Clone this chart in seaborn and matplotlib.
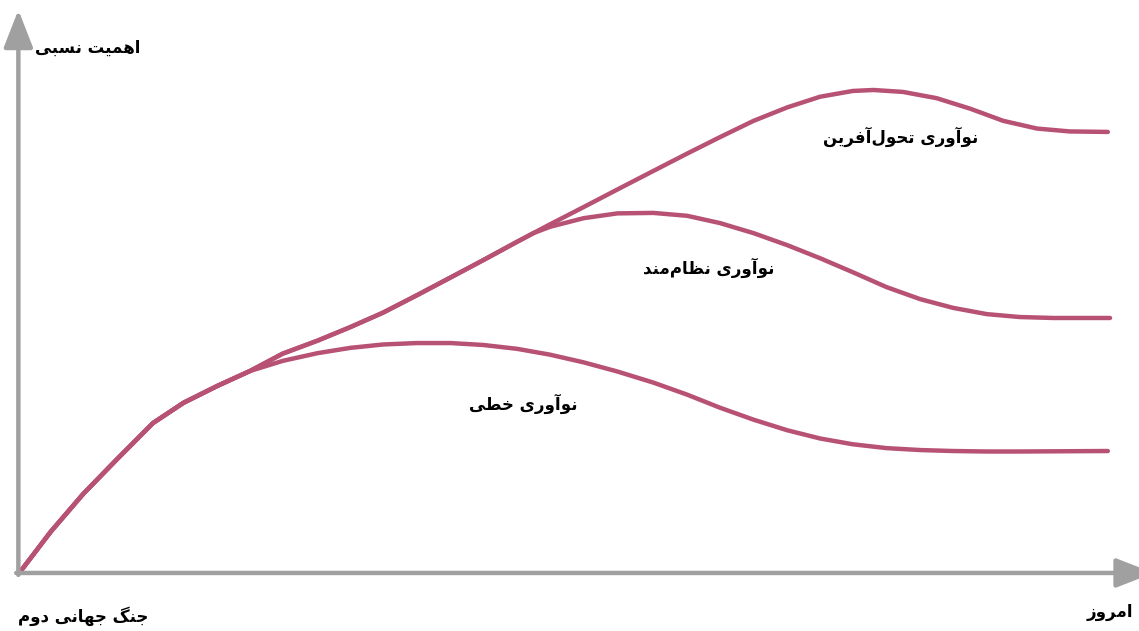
import pandas as pd
import seaborn as sns
import matplotlib.pyplot as plt

# curve data (x: time 0..100, y: relative importance 0..100)
common_x = [0.0, 2.8, 5.8, 8.9, 12.2, 15.0, 18.1, 21.1]
common_y = [0.0, 8.3, 16.2, 23.4, 30.9, 35.1, 38.6, 41.7]

linear_x = [24.1, 27.3, 30.3, 33.3, 36.4, 39.5, 42.5, 45.6, 48.6, 51.7, 54.8, 58.1,
            61.2, 64.2, 67.3, 70.4, 73.4, 76.4, 79.5, 82.6, 85.6, 88.7, 91.7, 99.8]
linear_y = [43.8, 45.4, 46.5, 47.2, 47.5, 47.5, 47.1, 46.3, 45.1, 43.5, 41.6, 39.3,
            36.8, 34.1, 31.6, 29.4, 27.7, 26.5, 25.7, 25.3, 25.1, 25.0, 25.0, 25.1]

# stretch that systematic and transformative share before they split
shared_x = [24.1, 27.3, 30.3, 33.3, 36.4, 39.5, 42.5, 45.6, 47.1]
shared_y = [45.3, 48.0, 50.8, 53.8, 57.4, 61.1, 64.7, 68.5, 70.3]

systematic_x = [48.6, 51.7, 54.8, 58.1, 61.2, 64.2, 67.3, 70.4, 73.4, 76.4, 79.5,
                82.6, 85.6, 88.7, 91.7, 94.8, 100.0]
systematic_y = [71.6, 73.4, 74.4, 74.5, 73.9, 72.4, 70.3, 67.8, 65.1, 62.2, 59.1,
                56.6, 54.8, 53.5, 52.9, 52.7, 52.7]

transform_x = [48.6, 51.7, 55.1, 58.1, 61.2, 64.2, 67.3, 70.4, 73.4, 76.4, 78.3,
               81.0, 84.1, 87.2, 90.2, 93.3, 96.3, 99.8]
transform_y = [72.1, 75.7, 79.7, 83.2, 86.8, 90.2, 93.6, 96.4, 98.6, 99.8, 100.0,
               99.6, 98.3, 96.1, 93.6, 92.0, 91.4, 91.3]

curve_names = ['نوآوری خطی', 'نوآوری نظام‌مند', 'نوآوری تحول‌آفرین']
label_pos = [(46.2, 34.9), (63.2, 63.1), (80.8, 90.2)]
y_title = 'اهمیت نسبی'
x_start = 'جنگ جهانی دوم'
x_end = 'امروز'

LINE = '#b85275'
GRAY = '#a0a0a0'

# --- tiny Persian shaper (matplotlib has no Arabic shaping) ---
# letter: (isolated, final, initial, medial); two entries = joins only to the right
FORMS = {
    'ا': ('\uFE8D', '\uFE8E'), 'آ': ('\uFE81', '\uFE82'),
    'د': ('\uFEA9', '\uFEAA'), 'ر': ('\uFEAD', '\uFEAE'),
    'ز': ('\uFEAF', '\uFEB0'), 'و': ('\uFEED', '\uFEEE'),
    'ب': ('\uFE8F', '\uFE90', '\uFE91', '\uFE92'),
    'ت': ('\uFE95', '\uFE96', '\uFE97', '\uFE98'),
    'ج': ('\uFE9D', '\uFE9E', '\uFE9F', '\uFEA0'),
    'ح': ('\uFEA1', '\uFEA2', '\uFEA3', '\uFEA4'),
    'خ': ('\uFEA5', '\uFEA6', '\uFEA7', '\uFEA8'),
    'س': ('\uFEB1', '\uFEB2', '\uFEB3', '\uFEB4'),
    'ط': ('\uFEC1', '\uFEC2', '\uFEC3', '\uFEC4'),
    'ظ': ('\uFEC5', '\uFEC6', '\uFEC7', '\uFEC8'),
    'ف': ('\uFED1', '\uFED2', '\uFED3', '\uFED4'),
    'گ': ('\uFB92', '\uFB93', '\uFB94', '\uFB95'),
    'ک': ('\uFB8E', '\uFB8F', '\uFB90', '\uFB91'),
    'ل': ('\uFEDD', '\uFEDE', '\uFEDF', '\uFEE0'),
    'م': ('\uFEE1', '\uFEE2', '\uFEE3', '\uFEE4'),
    'ن': ('\uFEE5', '\uFEE6', '\uFEE7', '\uFEE8'),
    'ه': ('\uFEE9', '\uFEEA', '\uFEEB', '\uFEEC'),
    'ی': ('\uFBFC', '\uFBFD', '\uFBFE', '\uFBFF'),
}


def shape(text):
    out = []
    for i, ch in enumerate(text):
        if ch not in FORMS:
            out.append(ch)
            continue
        prev = text[i - 1] if i > 0 else ''
        nxt = text[i + 1] if i + 1 < len(text) else ''
        join_prev = prev in FORMS and len(FORMS[prev]) == 4
        join_next = len(FORMS[ch]) == 4 and nxt in FORMS
        f = FORMS[ch]
        if join_prev and join_next:
            out.append(f[3])
        elif join_prev:
            out.append(f[1])
        elif join_next:
            out.append(f[2])
        else:
            out.append(f[0])
    return ''.join(out).replace('\u200c', '')[::-1]


rows = []
for name, xs, ys in [
    (curve_names[0], common_x + linear_x, common_y + linear_y),
    (curve_names[1], common_x + shared_x + systematic_x, common_y + shared_y + systematic_y),
    (curve_names[2], common_x + shared_x + transform_x, common_y + shared_y + transform_y),
]:
    for x, y in zip(xs, ys):
        rows.append({'x': x, 'y': y, 'curve': name})
df = pd.DataFrame(rows)

sns.set_style('white')
plt.rcParams['font.family'] = ['DejaVu Sans']

fig = plt.figure(figsize=(11.39, 6.31), dpi=100)
ax = fig.add_axes([0, 0, 1, 1])

sns.lineplot(data=df, x='x', y='y', hue='curve', palette=[LINE] * 3,
             estimator=None, sort=False, legend=False, linewidth=3.2, ax=ax)
for line in ax.lines:
    line.set_solid_capstyle('round')
    line.set_solid_joinstyle('round')

ax.set_xlim(-1.835, 102.66)
ax.set_ylim(-12.24, 118.67)
ax.axis('off')

# axes arrows
arrow = dict(arrowstyle='-|>,head_length=1.15,head_width=0.45', lw=3.2,
             color=GRAY, shrinkA=0, shrinkB=0, mutation_scale=20)
ax.annotate('', xy=(104.0, -0.2), xytext=(-0.35, -0.2), arrowprops=arrow,
            annotation_clip=False)
ax.annotate('', xy=(-0.15, 116.6), xytext=(-0.15, -0.6), arrowprops=arrow,
            annotation_clip=False)

for name, (lx, ly) in zip(curve_names, label_pos):
    ax.text(lx, ly, shape(name), ha='center', va='center',
            fontsize=12, fontweight='bold', color='black')

fig.text(88 / 1139, 1 - 48 / 631, shape(y_title), ha='center', va='center',
         fontsize=12, fontweight='bold', color='black')
fig.text(83 / 1139, 1 - 616 / 631, shape(x_start), ha='center', va='center',
         fontsize=12, fontweight='bold', color='black')
fig.text(1110 / 1139, 1 - 612 / 631, shape(x_end), ha='center', va='center',
         fontsize=12, fontweight='bold', color='black')

fig.savefig('out.png', dpi=100, facecolor='white')
